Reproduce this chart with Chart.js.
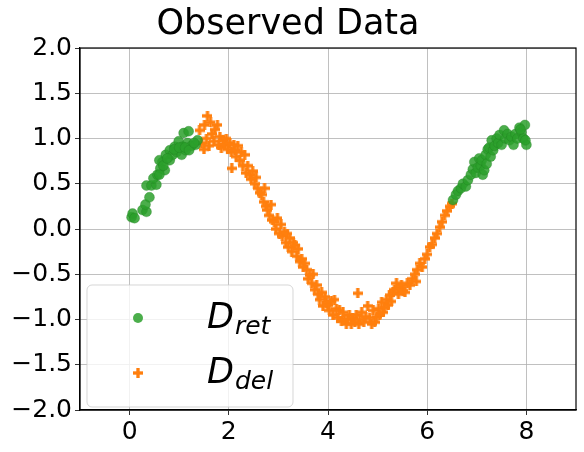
<!DOCTYPE html>
<html>
<head>
<meta charset="utf-8">
<script src="https://cdn.jsdelivr.net/npm/chart.js@4/dist/chart.umd.min.js"></script>
<style>
  html, body { margin: 0; padding: 0; background: #fff; }
  #wrap { width: 584px; height: 452px; }
</style>
</head>
<body>
<div id="wrap"><canvas id="obsChart" width="584" height="452"></canvas></div>
<script>
// data
const titleText = 'Observed Data';
const xTicks = [0, 2, 4, 6, 8];
const yTicks = [-2, -1.5, -1, -0.5, 0, 0.5, 1, 1.5, 2];

// D_ret (green circles), [x, y]
const retPoints = [
  [0.04,0.13],[0.06,0.17],[0.1,0.12],[0.26,0.21],[0.34,0.19],[0.32,0.27],[0.4,0.35],
  [0.34,0.48],[0.44,0.48],[0.54,0.49],[0.48,0.56],[0.56,0.6],[0.62,0.67],[0.66,0.74],
  [0.6,0.76],[0.71,0.65],[0.73,0.82],[0.81,0.87],[0.81,0.76],[0.87,0.82],[0.91,0.91],
  [0.95,0.85],[0.99,0.97],[1.05,0.82],[1.07,0.91],[1.09,1.06],[1.13,0.87],[1.17,0.95],
  [1.19,1.08],[1.25,0.92],[1.33,0.93],[1.37,0.98],[0.6,0.6],[0.68,0.7],[0.76,0.78],
  [0.9,0.88],[1.0,0.9],[1.12,0.9],[1.2,0.87],[1.3,0.95],
  [6.52,0.32],[6.58,0.38],[6.62,0.42],[6.68,0.45],[6.72,0.5],[6.78,0.47],[6.82,0.54],
  [6.88,0.6],[6.92,0.66],[6.95,0.74],[6.98,0.62],[7.02,0.68],[7.05,0.78],[7.08,0.7],
  [7.1,0.76],[7.12,0.6],[7.15,0.65],[7.18,0.82],[7.2,0.72],[7.22,0.88],[7.25,0.9],
  [7.28,0.8],[7.3,0.98],[7.33,0.87],[7.36,0.92],[7.4,1.0],[7.43,0.95],[7.46,1.04],
  [7.5,0.93],[7.55,1.09],[7.58,1.0],[7.62,1.05],[7.66,0.98],[7.7,1.02],[7.74,0.93],
  [7.78,1.05],[7.82,1.0],[7.86,1.12],[7.9,1.07],[7.94,1.0],[7.97,1.15],[8.0,0.93],
  [7.98,0.98],[7.88,1.1]
];

// D_del (orange pluses), [x, y]
const delPoints = [
  [1.41,1.09],[1.45,0.95],[1.5,0.88],[1.51,1.15],[1.55,1.0],[1.57,1.25],[1.6,0.92],
  [1.63,1.18],[1.66,1.05],[1.7,0.97],[1.72,1.1],[1.77,1.15],[1.8,0.93],[1.82,1.02],
  [1.85,0.9],[1.88,0.98],[1.92,0.93],[1.95,1.0],[1.98,0.88],[2.02,0.95],[2.05,0.85],
  [2.06,0.67],[2.1,0.93],[2.12,0.87],[2.15,0.8],[2.18,0.92],[2.22,0.76],[2.25,0.85],
  [2.28,0.7],[2.32,0.82],[2.35,0.62],[2.38,0.7],[2.42,0.6],[2.45,0.55],[2.48,0.64],
  [2.52,0.5],[2.55,0.57],[2.58,0.45],[2.62,0.4],[2.66,0.38],[2.7,0.3],[2.72,0.45],
  [2.75,0.25],[2.78,0.21],[2.82,0.15],[2.85,0.27],[2.88,0.1],[2.92,0.08],[2.95,0.0],
  [2.98,0.12],[3.02,-0.05],[3.05,0.05],[3.08,-0.08],[3.12,-0.03],[3.15,-0.15],[3.18,-0.05],
  [3.2,-0.2],[3.23,-0.1],[3.27,-0.25],[3.3,-0.15],[3.33,-0.18],[3.37,-0.3],[3.4,-0.22],
  [3.43,-0.36],[3.47,-0.33],[3.5,-0.42],[3.53,-0.38],[3.57,-0.45],[3.6,-0.55],[3.63,-0.51],
  [3.67,-0.6],[3.7,-0.5],[3.73,-0.67],[3.77,-0.62],[3.8,-0.72],[3.83,-0.78],[3.87,-0.7],
  [3.9,-0.85],[3.94,-0.75],[3.97,-0.82],[3.99,-0.84],[4.03,-0.9],[4.07,-0.8],[4.1,-0.95],
  [4.13,-0.78],[4.17,-0.88],[4.2,-0.98],[4.23,-0.9],[4.27,-1.02],[4.3,-0.92],[4.33,-1.0],
  [4.37,-1.05],[4.4,-1.0],[4.43,-0.95],[4.47,-1.05],[4.5,-0.98],[4.54,-1.03],[4.57,-0.95],
  [4.6,-0.71],[4.62,-1.05],[4.64,-1.0],[4.68,-0.92],[4.72,-1.03],[4.76,-0.97],[4.8,-0.85],
  [4.84,-0.98],[4.88,-1.05],[4.91,-0.9],[4.94,-1.03],[4.98,-0.97],[5.02,-0.88],[5.04,-0.95],
  [5.08,-0.81],[5.11,-0.92],[5.14,-0.87],[5.18,-0.78],[5.21,-0.84],[5.24,-0.73],[5.28,-0.8],
  [5.31,-0.7],[5.34,-0.67],[5.38,-0.6],[5.42,-0.72],[5.45,-0.65],[5.48,-0.62],[5.52,-0.68],
  [5.55,-0.7],[5.6,-0.6],[5.65,-0.62],[5.7,-0.55],[5.75,-0.5],[5.8,-0.45],[5.78,-0.58],
  [5.85,-0.38],[5.9,-0.42],[5.95,-0.33],[6.0,-0.28],[6.05,-0.2],[6.1,-0.17],[6.15,-0.1],
  [6.2,-0.05],[6.25,0.02],[6.3,0.08],[6.35,0.15],[6.4,0.2],[6.45,0.25],[6.5,0.28]
];

const legendItems = [
  { main: 'D', sub: 'ret' },
  { main: 'D', sub: 'del' }
];

const green = 'rgba(44, 160, 44, 0.85)';
const orange = '#ff7f0e';
const fontFam = "'DejaVu Sans', sans-serif";

// filled plus marker like matplotlib 'P'
function makePlus(size, color) {
    const cv = document.createElement('canvas');
    cv.width = size;
    cv.height = size;
    const g = cv.getContext('2d');
    g.fillStyle = color;
    const a = size / 3;
    g.fillRect(a, 0, a, size);
    g.fillRect(0, a, size, a);
    return cv;
}
const plusImg = makePlus(10, orange);

function fmt(v) {
    const s = Math.abs(v).toFixed(1);
    return v < 0 ? '\u2212' + s : s;
}

// top/right spines + legend with subscripts
const framePlugin = {
    id: 'frameAndLegend',
    afterDraw(chart) {
        const c = chart.ctx;
        const a = chart.chartArea;
        c.save();
        c.strokeStyle = '#000';
        c.lineWidth = 1.2;
        c.strokeRect(a.left, a.top, a.right - a.left, a.bottom - a.top);

        // legend box
        const bx = 87, by = 285, bw = 206, bh = 122, r = 5;
        c.beginPath();
        c.moveTo(bx + r, by);
        c.arcTo(bx + bw, by, bx + bw, by + bh, r);
        c.arcTo(bx + bw, by + bh, bx, by + bh, r);
        c.arcTo(bx, by + bh, bx, by, r);
        c.arcTo(bx, by, bx + bw, by, r);
        c.closePath();
        c.fillStyle = 'rgba(255,255,255,0.8)';
        c.fill();
        c.strokeStyle = 'rgba(204,204,204,0.8)';
        c.lineWidth = 1;
        c.stroke();

        // markers
        c.fillStyle = green;
        c.beginPath();
        c.arc(138, 318, 5, 0, Math.PI * 2);
        c.fill();
        c.drawImage(plusImg, 133, 368);

        // labels
        const baselines = [328, 383];
        c.fillStyle = '#000';
        c.textBaseline = 'alphabetic';
        legendItems.forEach((item, i) => {
            c.font = 'italic 35px ' + fontFam;
            c.fillText(item.main, 207, baselines[i]);
            const w = c.measureText(item.main).width;
            c.font = 'italic 25px ' + fontFam;
            c.fillText(item.sub, 207 + w + 1, baselines[i] + 6);
        });
        c.restore();
    }
};

const ctx = document.getElementById('obsChart');
new Chart(ctx, {
    type: 'scatter',
    data: {
        datasets: [{
            label: 'D_ret',
            data: retPoints.map(p => ({ x: p[0], y: p[1] })),
            pointStyle: 'circle',
            pointRadius: 5,
            backgroundColor: green,
            borderColor: 'rgba(30, 120, 30, 0.6)',
            borderWidth: 0.5
        }, {
            label: 'D_del',
            data: delPoints.map(p => ({ x: p[0], y: p[1] })),
            pointStyle: plusImg,
            pointRadius: 5,
            backgroundColor: orange,
            borderColor: orange
        }]
    },
    options: {
        responsive: false,
        animation: false,
        layout: { padding: { left: 0, right: 8, top: 0, bottom: 0 } },
        plugins: {
            legend: { display: false },
            tooltip: { enabled: false },
            title: {
                display: true,
                text: titleText,
                color: '#000',
                font: { family: fontFam, size: 35, weight: 'normal' },
                padding: { top: 4, bottom: 2 }
            }
        },
        scales: {
            x: {
                type: 'linear',
                min: -1,
                max: 9,
                afterBuildTicks: s => { s.ticks = xTicks.map(v => ({ value: v })); },
                afterFit: s => { s.height = 42; },
                grid: { color: '#b0b0b0', tickColor: '#000', tickLength: 5, lineWidth: 0.8 },
                border: { color: '#000', width: 1.2 },
                ticks: {
                    color: '#000',
                    font: { family: fontFam, size: 25 },
                    padding: 2,
                    maxRotation: 0,
                    callback: v => String(v)
                }
            },
            y: {
                type: 'linear',
                min: -2,
                max: 2,
                afterBuildTicks: s => { s.ticks = yTicks.map(v => ({ value: v })); },
                afterFit: s => { s.width = 80; },
                grid: { color: '#b0b0b0', tickColor: '#000', tickLength: 5, lineWidth: 0.8 },
                border: { color: '#000', width: 1.2 },
                ticks: {
                    color: '#000',
                    font: { family: fontFam, size: 25 },
                    padding: 3,
                    callback: v => fmt(v)
                }
            }
        }
    },
    plugins: [framePlugin]
});
</script>
</body>
</html>
